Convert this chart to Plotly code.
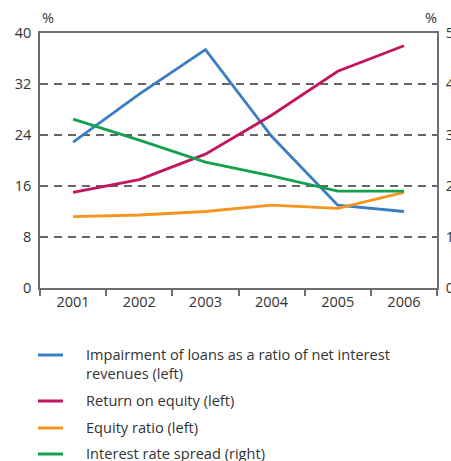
import plotly.graph_objects as go

# Annual figures, 2001-2006
years = ["2001", "2002", "2003", "2004", "2005", "2006"]
impairment = [22.9, 30.4, 37.4, 23.8, 13.0, 12.0]      # % of net interest revenues (left)
return_on_equity = [15.0, 17.0, 21.0, 27.1, 34.0, 38.0]  # % (left)
equity_ratio = [11.2, 11.45, 12.0, 13.0, 12.5, 15.0]     # % (left)
rate_spread = [3.31, 2.9, 2.47, 2.2, 1.9, 1.9]           # % (right)

names = [
    "Impairment of loans as a ratio of net interest<br>revenues (left)",
    "Return on equity (left)",
    "Equity ratio (left)",
    "Interest rate spread (right)",
]
colors = ["#3a7dc3", "#c3145f", "#f7941e", "#13a24b"]

left_ticks = [0, 8, 16, 24, 32, 40]
right_ticks = [0, 1, 2, 3, 4, 5]

W, H = 451, 461
L, R, T, B = 40, 14, 33, 173
FONT = "Open Sans"
AX = "#6e6e6e"
TXT = "#333333"

fig = go.Figure()
series = [impairment, return_on_equity, equity_ratio, rate_spread]
axes = ["y", "y", "y", "y2"]
for vals, name, col, ax in zip(series, names, colors, axes):
    fig.add_trace(go.Scatter(
        x=years, y=vals, mode="lines", name=name, yaxis=ax,
        line=dict(color=col, width=2.8), showlegend=False,
    ))

# Legend drawn below the plot area, positioned in pixels
pw, ph = W - L - R, H - T - B
def px_x(px):
    return (px - L) / pw
def px_y(py):
    return (H - B - py) / ph

rows = [355, 401, 428, 454]
for name, col, ry in zip(names, colors, rows):
    fig.add_shape(type="line", xref="paper", yref="paper",
                  x0=px_x(38), x1=px_x(63), y0=px_y(ry), y1=px_y(ry),
                  line=dict(color=col, width=3))
    fig.add_annotation(xref="paper", yref="paper", x=px_x(84), y=px_y(ry - 13.5),
                       xanchor="left", yanchor="top", align="left",
                       text=name, showarrow=False,
                       font=dict(family=FONT, size=14.6, color=TXT))

# Unit labels above the axes
fig.add_annotation(xref="paper", yref="paper", x=px_x(48), y=px_y(18),
                   text="%", showarrow=False, xanchor="center", yanchor="middle",
                   font=dict(family=FONT, size=14.5, color=TXT))
fig.add_annotation(xref="paper", yref="paper", x=px_x(431), y=px_y(18),
                   text="%", showarrow=False, xanchor="center", yanchor="middle",
                   font=dict(family=FONT, size=14.5, color=TXT))

fig.update_layout(
    width=W, height=H,
    margin=dict(l=L, r=R, t=T, b=B),
    paper_bgcolor="white", plot_bgcolor="white",
    font=dict(family=FONT, size=14.5, color=TXT),
    xaxis=dict(
        type="category", range=[-0.5, 5.5], automargin=False,
        showline=True, linecolor=AX, linewidth=1.5, mirror=True,
        ticks="outside", tickson="boundaries", ticklen=6, tickcolor=AX, tickwidth=1.5,
        showgrid=False, tickfont=dict(size=14.5, color=TXT),
    ),
    yaxis=dict(
        range=[0, 40], tickvals=left_ticks, automargin=False,
        showline=True, linecolor=AX, linewidth=1.5,
        showgrid=True, gridcolor="#666666", gridwidth=1.6, griddash="8px,6px",
        zeroline=False, ticks="", ticklabelstandoff=4,
        tickfont=dict(size=14.5, color=TXT),
    ),
    yaxis2=dict(
        range=[0, 5], tickvals=right_ticks, overlaying="y", side="right",
        automargin=False,
        showline=True, linecolor=AX, linewidth=1.5,
        showgrid=False, zeroline=False, ticks="", ticklabelstandoff=4,
        tickfont=dict(size=14.5, color=TXT),
    ),
)

fig.write_html("out.html")
